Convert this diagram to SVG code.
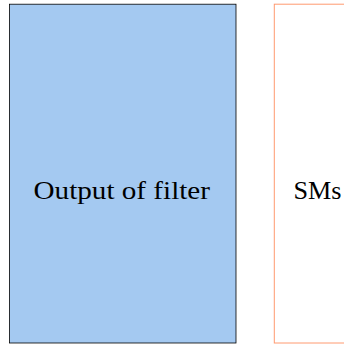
<svg xmlns="http://www.w3.org/2000/svg" width="344" height="345" viewBox="0 0 344 345">
<style>
.lbl{font-family:"Liberation Serif","DejaVu Serif",serif;font-size:25px;fill:#000}
</style>
<rect width="344" height="345" fill="#fff"/>
<g id="filter">
<rect x="9.5" y="4.2" width="226.5" height="338.8" fill="#a4c9f1" stroke="#000" stroke-width="0.8"/>
<text class="lbl" x="33.5" y="199" textLength="176.5" lengthAdjust="spacingAndGlyphs">Output of filter</text>
</g>
<g id="sms">
<rect x="274.3" y="4.2" width="100" height="338.8" fill="#fff" stroke="#ff9a70" stroke-width="1"/>
<text class="lbl" x="293.5" y="199" textLength="48" lengthAdjust="spacingAndGlyphs">SMs</text>
</g>
<g id="connectors"/>
</svg>
